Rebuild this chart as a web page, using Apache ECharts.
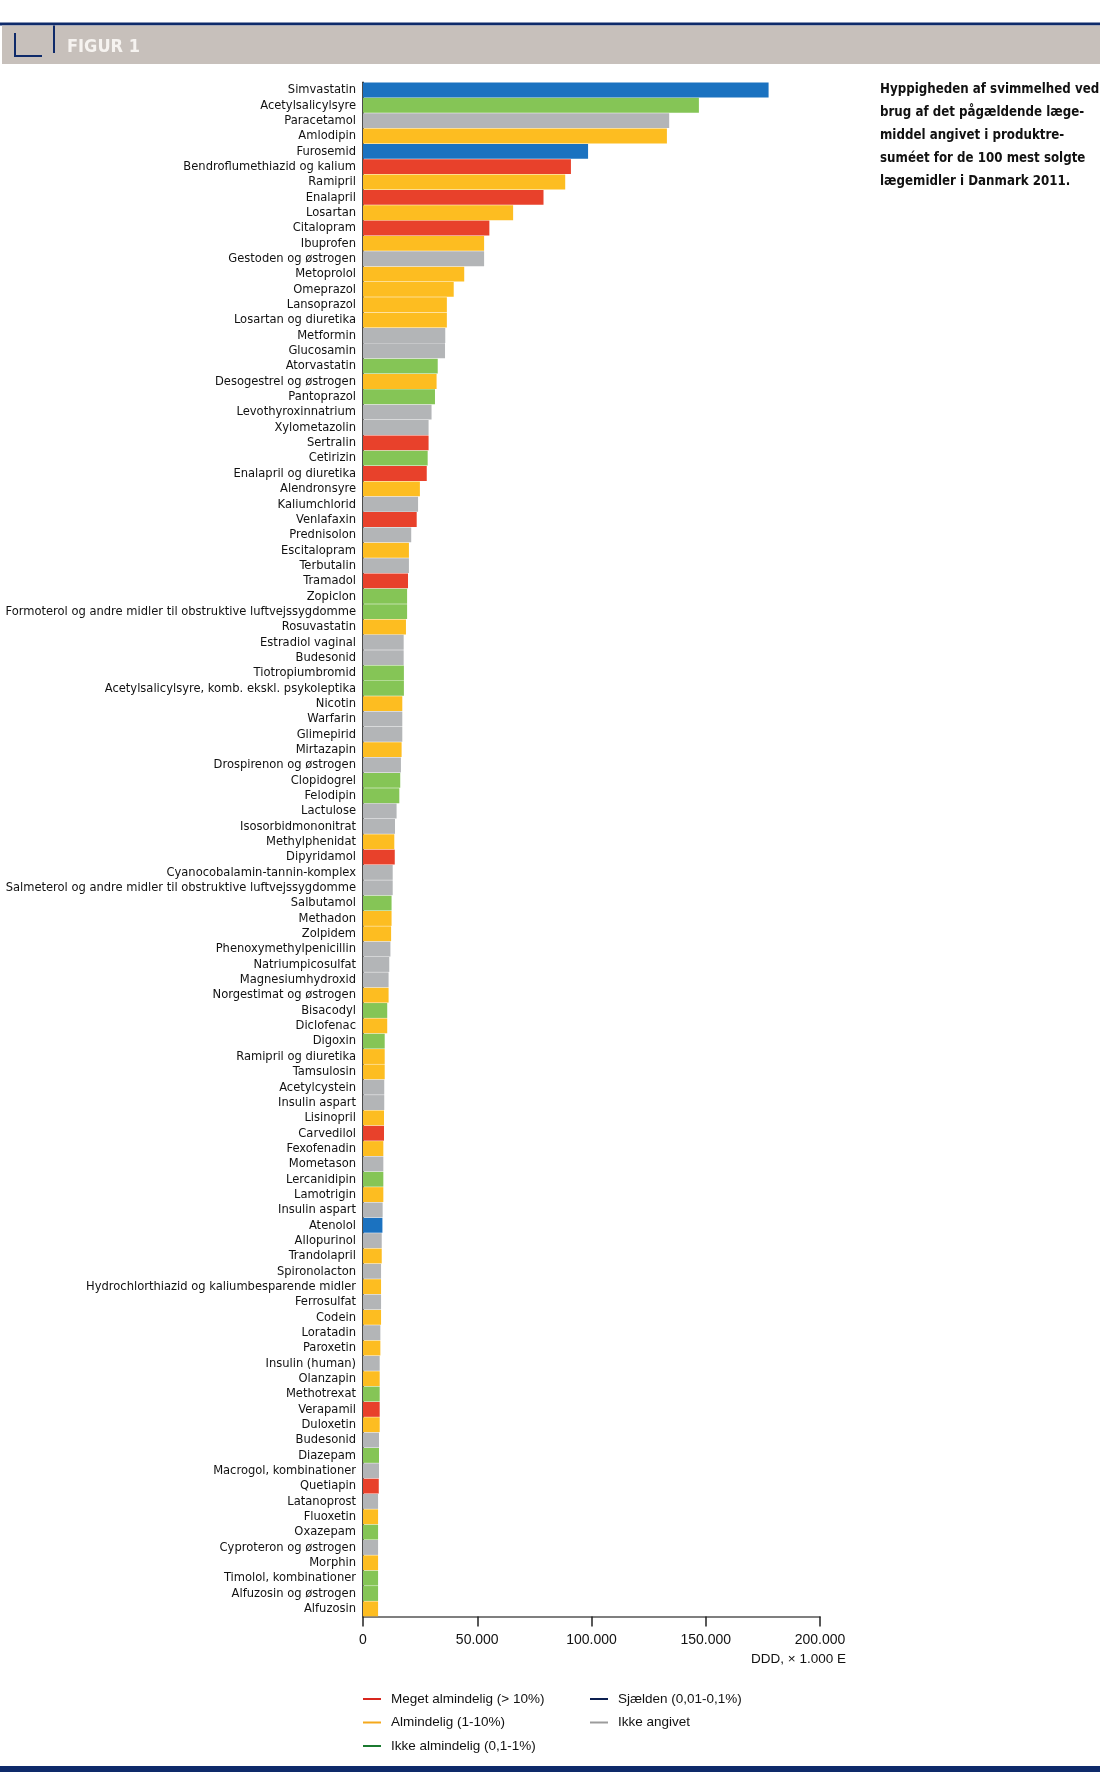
<!DOCTYPE html>
<html>
<head>
<meta charset="utf-8">
<script src="https://cdn.jsdelivr.net/npm/echarts@6/dist/echarts.min.js"></script>
<style>
html,body{margin:0;padding:0;background:#fff;}
#chart{width:1100px;height:1772px;}
</style>
</head>
<body>
<div id="chart"></div>
<script>
// ---- data ----
const labels = [
 "Simvastatin","Acetylsalicylsyre","Paracetamol","Amlodipin","Furosemid","Bendroflumethiazid og kalium","Ramipril","Enalapril","Losartan","Citalopram",
 "Ibuprofen","Gestoden og østrogen","Metoprolol","Omeprazol","Lansoprazol","Losartan og diuretika","Metformin","Glucosamin","Atorvastatin","Desogestrel og østrogen",
 "Pantoprazol","Levothyroxinnatrium","Xylometazolin","Sertralin","Cetirizin","Enalapril og diuretika","Alendronsyre","Kaliumchlorid","Venlafaxin","Prednisolon",
 "Escitalopram","Terbutalin","Tramadol","Zopiclon","Formoterol og andre midler til obstruktive luftvejssygdomme","Rosuvastatin","Estradiol vaginal","Budesonid","Tiotropiumbromid","Acetylsalicylsyre, komb. ekskl. psykoleptika",
 "Nicotin","Warfarin","Glimepirid","Mirtazapin","Drospirenon og østrogen","Clopidogrel","Felodipin","Lactulose","Isosorbidmononitrat","Methylphenidat",
 "Dipyridamol","Cyanocobalamin-tannin-komplex","Salmeterol og andre midler til obstruktive luftvejssygdomme","Salbutamol","Methadon","Zolpidem","Phenoxymethylpenicillin","Natriumpicosulfat","Magnesiumhydroxid","Norgestimat og østrogen",
 "Bisacodyl","Diclofenac","Digoxin","Ramipril og diuretika","Tamsulosin","Acetylcystein","Insulin aspart","Lisinopril","Carvedilol","Fexofenadin",
 "Mometason","Lercanidipin","Lamotrigin","Insulin aspart","Atenolol","Allopurinol","Trandolapril","Spironolacton","Hydrochlorthiazid og kaliumbesparende midler","Ferrosulfat",
 "Codein","Loratadin","Paroxetin","Insulin (human)","Olanzapin","Methotrexat","Verapamil","Duloxetin","Budesonid","Diazepam",
 "Macrogol, kombinationer","Quetiapin","Latanoprost","Fluoxetin","Oxazepam","Cyproteron og østrogen","Morphin","Timolol, kombinationer","Alfuzosin og østrogen","Alfuzosin"
];
const values = [
 177500,147000,134000,133000,98500,91000,88500,79000,65700,55300,
 53000,53000,44300,39700,36700,36700,36000,35900,32700,32200,
 31500,30000,28700,28700,28300,27900,24900,24100,23500,21100,
 20100,20100,19700,19300,19300,18800,17800,17800,17900,17900,
 17200,17200,17200,16900,16600,16300,15900,14700,14000,13700,
 13900,13000,13000,12500,12500,12300,12000,11500,11200,11200,
 10600,10600,9500,9500,9500,9300,9300,9200,9200,8900,
 8900,8900,8900,8600,8500,8200,8200,7900,7900,7900,
 7900,7600,7600,7300,7300,7300,7300,7300,7000,7000,
 7000,6900,6600,6600,6600,6600,6600,6600,6600,6600
];
// R = meget almindelig, Y = almindelig, G = ikke almindelig, B = sjælden, N = ikke angivet
const classes = [
 "B","G","N","Y","B","R","Y","R","Y","R",
 "Y","N","Y","Y","Y","Y","N","N","G","Y",
 "G","N","N","R","G","R","Y","N","R","N",
 "Y","N","R","G","G","Y","N","N","G","G",
 "Y","N","N","Y","N","G","G","N","N","Y",
 "R","N","N","G","Y","Y","N","N","N","Y",
 "G","Y","G","Y","Y","N","N","Y","R","Y",
 "N","G","Y","N","B","N","Y","N","Y","N",
 "Y","N","Y","N","Y","G","R","Y","N","G",
 "N","R","N","Y","G","N","Y","G","G","Y"
];
const classCodes = ["R","Y","G","B","N"];
const classNames = ["Meget almindelig (> 10%)","Almindelig (1-10%)","Ikke almindelig (0,1-1%)","Sjælden (0,01-0,1%)","Ikke angivet"];
const xTicks = [0,50000,100000,150000,200000];

// ---- styles ----
const barColors = {R:"#e8412b",Y:"#fdbd21",G:"#85c556",B:"#1b72c0",N:"#b3b5b7"};
const legendColors = {R:"#d8261e",Y:"#f5a91c",G:"#1b7a30",B:"#0c1f50",N:"#9c9c9c"};
const navy = "#0e2a6a";
const condensed = "'Liberation Sans Narrow', 'DejaVu Sans Condensed', sans-serif";

const series = classCodes.map((c,k)=>({
  name: classNames[k],
  type: "bar",
  stack: "all",
  barCategoryGap: "3%",
  itemStyle: {color: barColors[c]},
  emphasis: {disabled: true},
  data: values.map((v,i)=> classes[i]===c ? v : "-")
}));

function fmt(v){ return String(v).replace(/\B(?=(\d{3})+(?!\d))/g,"."); }

const legendBase = {
  orient: "vertical",
  top: 1692,
  padding: 0,
  itemGap: 9.5,
  itemWidth: 18,
  itemHeight: 2,
  icon: "rect",
  selectedMode: false,
  textStyle: {fontSize: 13.5, color: "#111", fontFamily: "Liberation Sans, sans-serif", lineHeight: 14, padding: [0,0,0,5]}
};

const option = {
  animation: false,
  backgroundColor: "#fff",
  grid: {left: 363, right: 280, top: 82.3, bottom: 155.5, containLabel: false, outerBoundsMode: "none"},
  xAxis: {
    type: "value", min: xTicks[0], max: xTicks[xTicks.length-1], interval: xTicks[1]-xTicks[0],
    axisLine: {show: true, lineStyle: {color: "#555", width: 1.5}},
    axisTick: {show: true, length: 10, lineStyle: {color: "#222", width: 1.5}},
    axisLabel: {margin: 17, fontSize: 14, color: "#111", fontFamily: "Liberation Sans, sans-serif", formatter: fmt},
    splitLine: {show: false}
  },
  yAxis: {
    type: "category", inverse: true,
    data: labels.map((l,i)=>String(i)),
    axisLine: {show: true, lineStyle: {color: "#111", width: 1.5}},
    axisTick: {show: false},
    axisLabel: {margin: 7, fontSize: 12.8, color: "#111", fontFamily: condensed,
      interval: 0, formatter: (v,i)=>labels[i]}
  },
  legend: [
    Object.assign({}, legendBase, {left: 363, data: [0,1,2].map(k=>({name: classNames[k], itemStyle:{color: legendColors[classCodes[k]]}}))}),
    Object.assign({}, legendBase, {left: 590, data: [3,4].map(k=>({name: classNames[k], itemStyle:{color: legendColors[classCodes[k]]}}))})
  ],
  title: [
    {text: "Hyppigheden af svimmelhed ved\nbrug af det pågældende læge-\nmiddel angivet i produktre-\nsuméet for de 100 mest solgte\nlægemidler i Danmark 2011.",
     left: 880, top: 78, padding: 0,
     textStyle: {fontSize: 13.2, fontWeight: "bold", color: "#111", lineHeight: 23, fontFamily: condensed}}
  ],
  graphic: [
    {type: "rect", shape: {x: 0, y: 22.5, width: 1100, height: 3}, style: {fill: navy}},
    {type: "rect", shape: {x: 2, y: 25.5, width: 1098, height: 38.5}, style: {fill: "#c7c0bb"}},
    {type: "polyline", shape: {points: [[15,33],[15,56],[42,56]]}, style: {stroke: navy, lineWidth: 2, fill: null}},
    {type: "line", shape: {x1: 54, y1: 25.5, x2: 54, y2: 53}, style: {stroke: navy, lineWidth: 2}},
    {type: "text", x: 67, y: 47.5, style: {text: "FIGUR 1", fill: "#f6f3f0", font: "bold 18px 'DejaVu Sans Condensed', 'Liberation Sans', sans-serif", textVerticalAlign: "middle", verticalAlign: "middle"}},
    {type: "text", x: 846, y: 1659, style: {text: "DDD, × 1.000 E", fill: "#111", font: "13.5px 'Liberation Sans', sans-serif", align: "right", textAlign: "right", verticalAlign: "middle", textVerticalAlign: "middle"}},
    {type: "rect", shape: {x: 0, y: 1766, width: 1100, height: 6}, style: {fill: navy}}
  ],
  series: series
};

const chart = echarts.init(document.getElementById("chart"), null, {renderer: "canvas"});
chart.setOption(option);
</script>
</body>
</html>
